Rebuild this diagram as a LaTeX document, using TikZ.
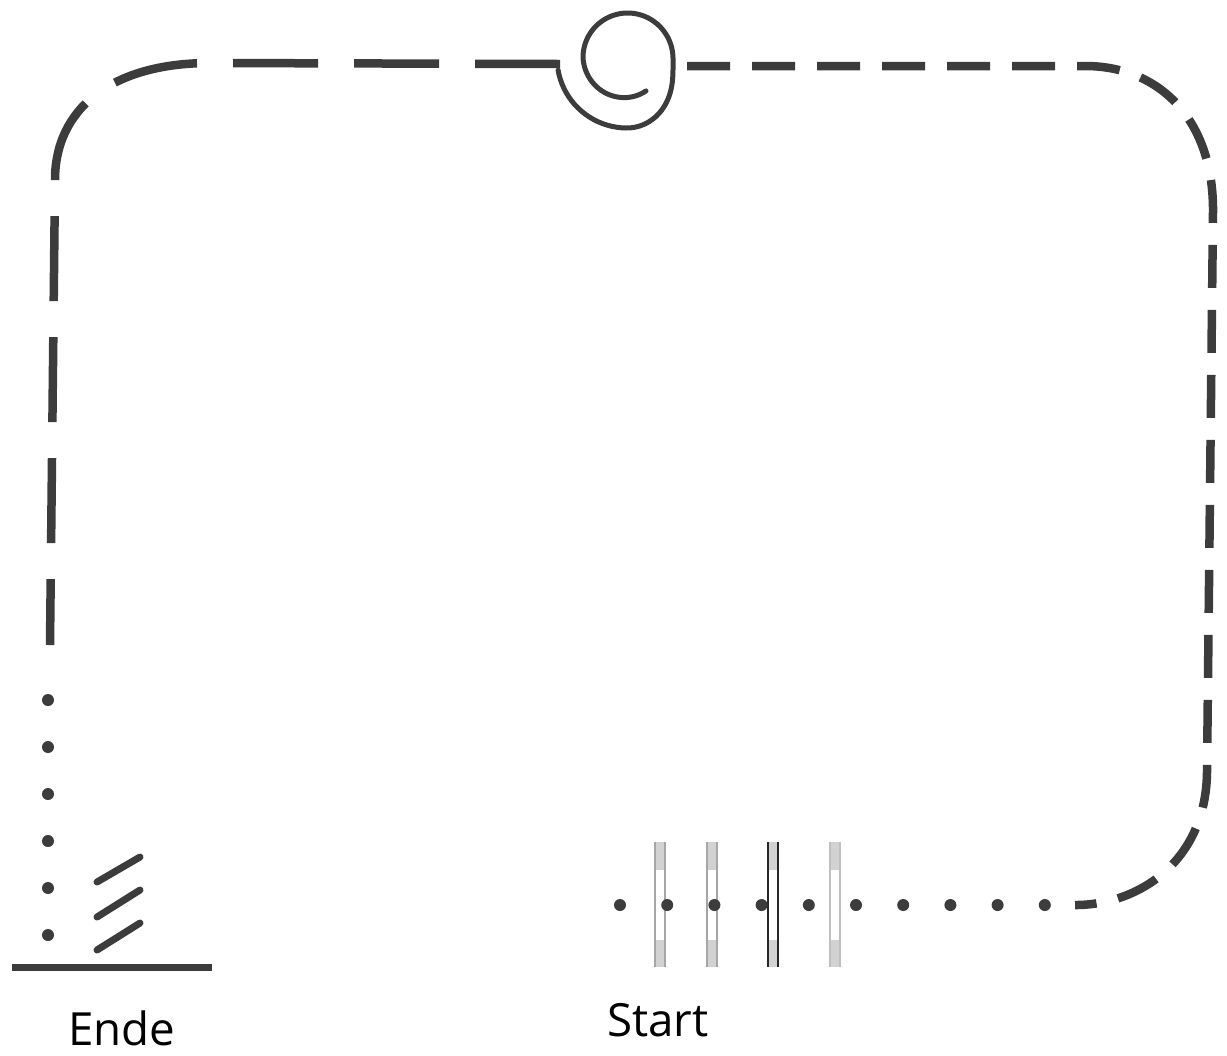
\documentclass[tikz,border=0pt]{standalone}
\usepackage{fontspec}
\setmainfont{Open Sans}
\definecolor{ink}{HTML}{3C3C3C}
\tikzset{
  track/.style={draw=ink, line width=0.85mm},
  longdash/.style={track, dash pattern=on 8.5mm off 3.6mm},
  shortdash/.style={track, dash pattern=on 4.3mm off 2.2mm},
  tag/.style={font=\fontsize{13}{15}\selectfont, text=black},
  declare function={loopr(\t)=(\t<270) ? 70 : ((\t<360) ? 58+12*cos(2*(\t-270)) : ((\t<540) ? 46-2*(\t-360)/180 : 44-6*(\t-540)/120));},
}
\begin{document}
\begin{tikzpicture}[x=0.1mm, y=-0.1mm]
  \useasboundingbox (0,0) rectangle (1227,1055);
  \draw[longdash] (560,64) -- (210,63) .. controls (110,63) and (55,110) .. (55,180) -- (50,645);
  \draw[shortdash] (687,66) -- (1085,66) .. controls (1160,66) and (1213,120) .. (1213,210)
    -- (1207,770) .. controls (1207,860) and (1140,905) .. (1075,905);
  \draw[ink, line width=0.5mm, line cap=round] plot[domain=190:660, samples=120, variable=\t]
    ({627+loopr(\t)*cos(\t)}, {58-loopr(\t)*sin(\t)});

  \foreach \x/\c in {660/gray!70, 712/gray!70, 773/black!85, 835/gray!50} {
    \fill[gray!35] (\x-5,842) rectangle (\x+5,870);
    \fill[gray!35] (\x-5,940) rectangle (\x+5,967);
    \draw[\c, line width=0.25mm] (\x-5,842) -- (\x-5,967) (\x+5,842) -- (\x+5,967);
  }
  \foreach \i in {0,...,9} {
    \fill[ink] (620+47.2*\i,905) circle (6);
  }
  \foreach \i in {0,...,5} {
    \fill[ink] (48,700+47*\i) circle (6);
  }
  \draw[ink, line width=0.7mm] (12,967) -- (212,967);
  \foreach \y/\z in {0/0, 35/33, 68/66} {
    \draw[ink, line width=0.7mm, line cap=round] (97,882+\y) -- (140,857+\z);
  }

  \node[tag] (ende) at (122,1028) {Ende};
  \node[tag] (start) at (658,1020) {Start};
\end{tikzpicture}
\end{document}
